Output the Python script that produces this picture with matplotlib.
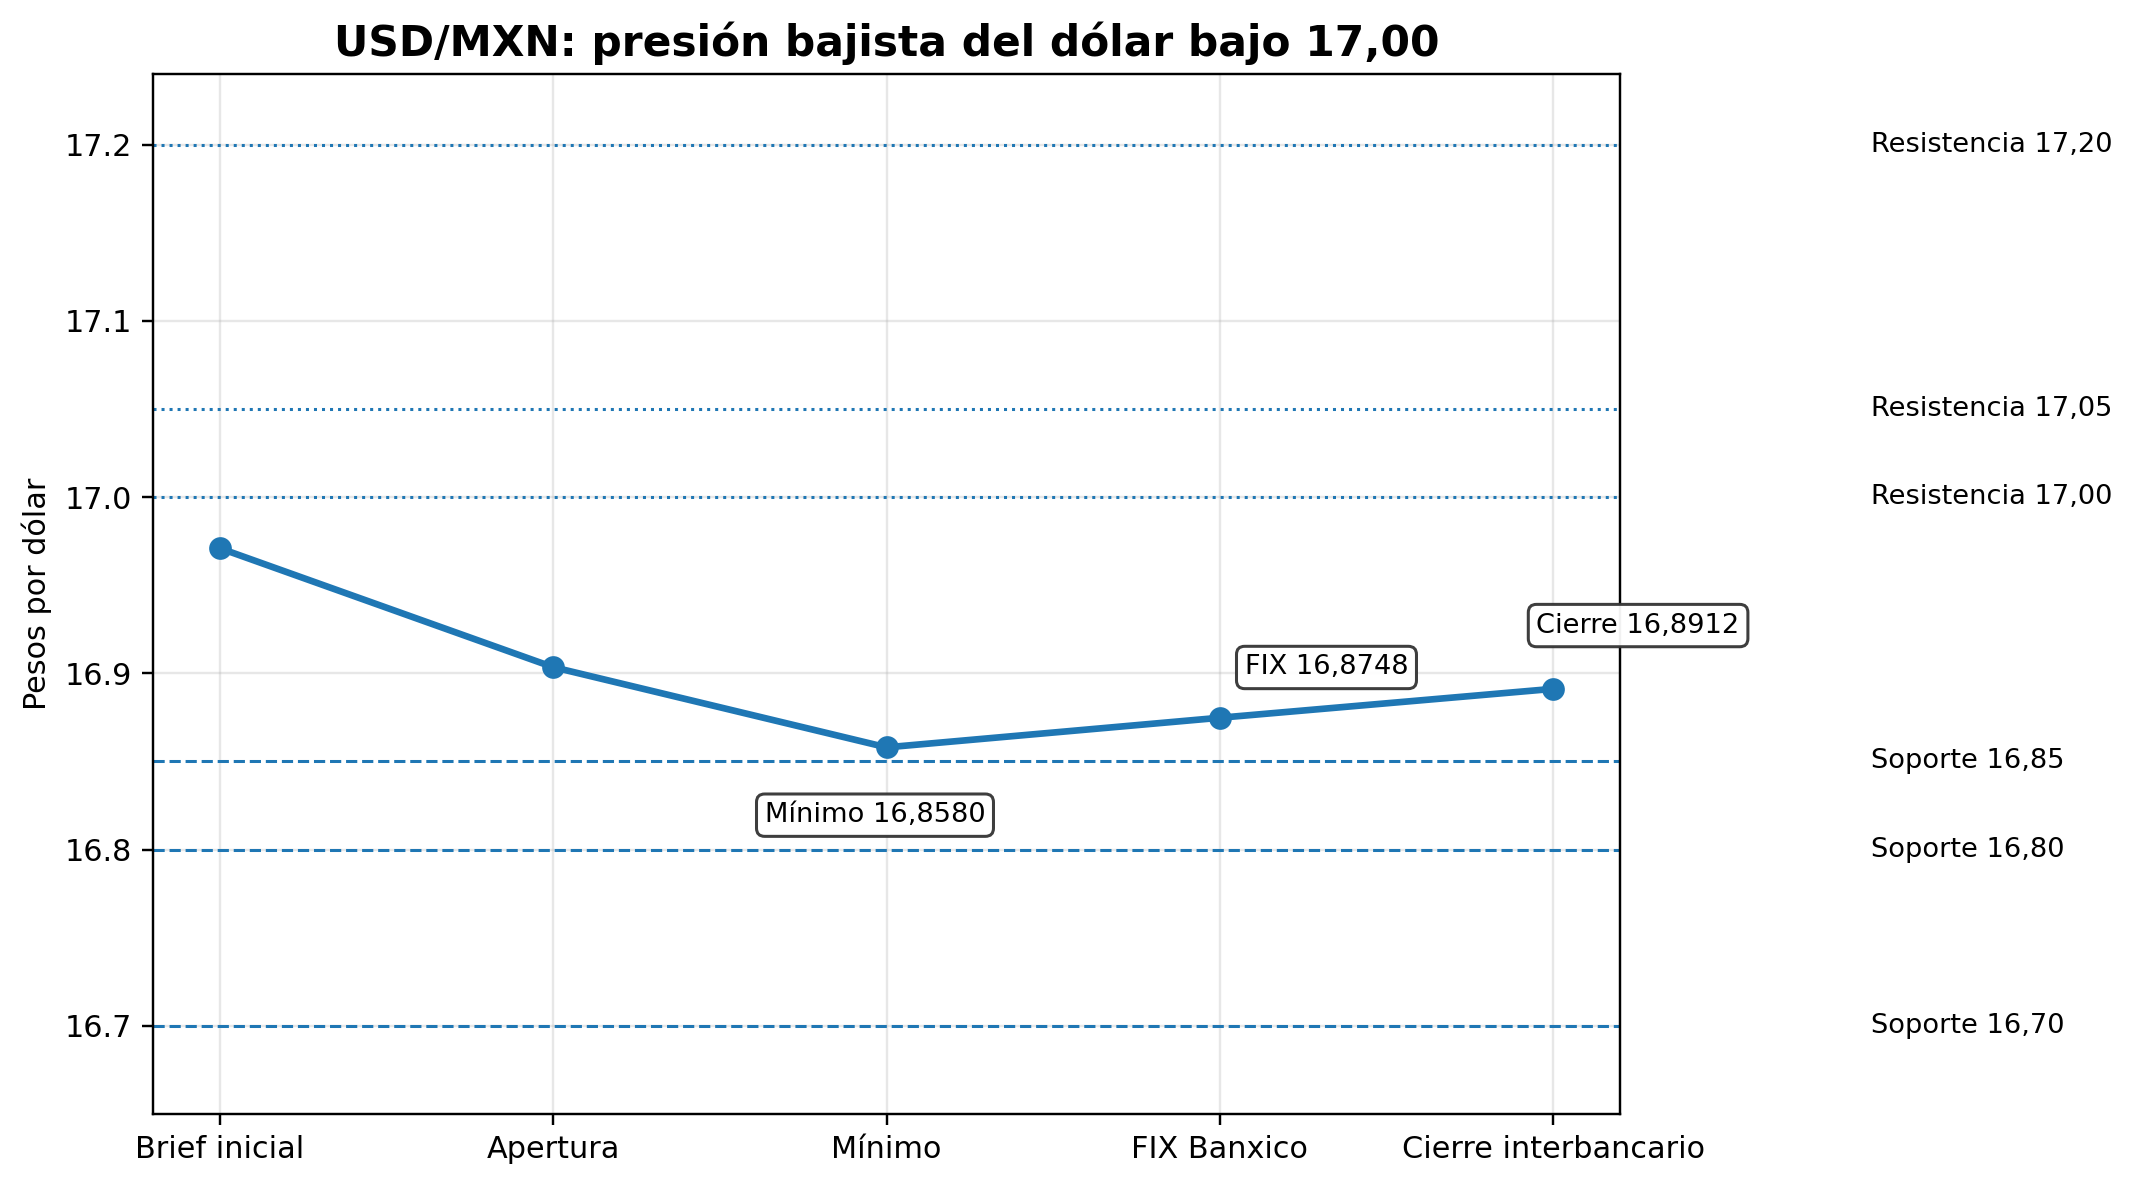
import matplotlib
matplotlib.use("Agg")
import matplotlib.pyplot as plt

etapas = ["Brief inicial", "Apertura", "Mínimo", "FIX Banxico", "Cierre interbancario"]
valores = [16.971, 16.9035, 16.8580, 16.8748, 16.8912]

resistencias = [17.00, 17.05, 17.20]
soportes = [16.70, 16.80, 16.85]

anotaciones = [(2, "Mínimo 16,8580"), (3, "FIX 16,8748"), (4, "Cierre 16,8912")]
offsets = {2: (-3.8, -22.4), 3: (35.2, 16.6), 4: (28.0, 20.9)}

def fmt(v):
    return f"{v:.2f}".replace(".", ",")

DPI = 218
fig = plt.figure(figsize=(2134 / DPI, 1185 / DPI), dpi=DPI)
ax = fig.add_axes([153 / 2134, 1 - 1114 / 1185, 1467 / 2134, 1040 / 1185])

x = list(range(len(etapas)))
ax.plot(x, valores, marker="o", color="#1f77b4", linewidth=2.2, markersize=6.5, zorder=3)

for r in resistencias:
    ax.axhline(r, color="#1f77b4", linestyle=":", linewidth=1.0, zorder=2)
    ax.text(1.171, r, f"Resistencia {fmt(r)}", transform=ax.get_yaxis_transform(),
            va="center", ha="left", fontsize=9)
for s in soportes:
    ax.axhline(s, color="#1f77b4", linestyle="--", linewidth=1.0, zorder=2)
    ax.text(1.171, s, f"Soporte {fmt(s)}", transform=ax.get_yaxis_transform(),
            va="center", ha="left", fontsize=9)

for i, txt in anotaciones:
    ax.annotate(txt, xy=(i, valores[i]), xytext=offsets[i], textcoords="offset points",
                ha="center", va="center", fontsize=9, zorder=4,
                bbox=dict(boxstyle="round,pad=0.3", fc="white", ec="#333333", lw=1.0, alpha=0.95))

ax.set_xticks(x)
ax.set_xticklabels(etapas, fontsize=10)
ax.tick_params(axis="y", labelsize=10)
ax.set_xlim(-0.2, 4.2)
ax.set_ylim(16.65, 17.24)
ax.set_yticks([16.7, 16.8, 16.9, 17.0, 17.1, 17.2])
ax.grid(True, alpha=0.3)
ax.set_ylabel("Pesos por dólar", fontsize=10)
ax.set_title("USD/MXN: presión bajista del dólar bajo 17,00", fontsize=14, fontweight="bold")

fig.savefig("out.png", dpi=DPI)
